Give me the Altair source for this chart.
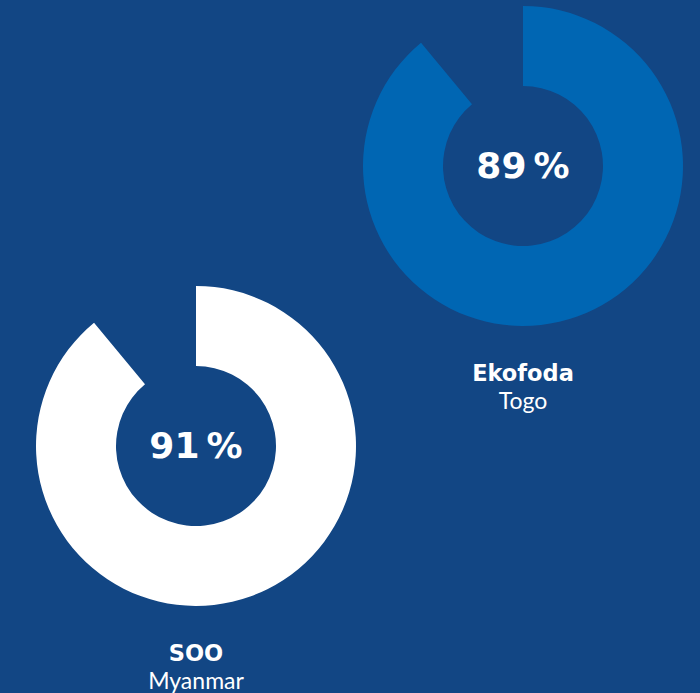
import altair as alt
import pandas as pd
import math

# Data
names = ["Ekofoda", "SOO"]
countries = ["Togo", "Myanmar"]
percent_values = [89, 91]
arc_filled = [89, 89]          # share of the ring actually drawn (measured)
ring_colors = ["#0066B3", "#FFFFFF"]
BG = "#124684"

# make the page itself take the chart's background (no white frame)
try:
    import altair.utils.html as _ah
    for _k, _t in list(_ah.TEMPLATES.items()):
        _r = _t.render

        def _render(*a, _r=_r, **k):
            return _r(*a, **k).replace(
                "<style>",
                "<style>\n html, body { margin: 0; background: %s; overflow: hidden; }" % BG,
                1,
            )
        _t.render = _render
except Exception:
    pass

df = pd.DataFrame({
    "name": names,
    "country": countries,
    "start": [0, 0],
    "end": arc_filled,
    "label": [f"{v}\u2009%" for v in percent_values],
})

xs = alt.Scale(type="point", domain=["SOO", "Ekofoda"], range=[196, 523], padding=0)
ys = alt.Scale(type="point", domain=["Ekofoda", "SOO"], range=[166, 446], padding=0)
X = alt.X("name:N", scale=xs, axis=None)
Y = alt.Y("name:N", scale=ys, axis=None)

base = alt.Chart(df)

rings = base.mark_arc(innerRadius=80, outerRadius=160).encode(
    x=X, y=Y,
    theta=alt.Theta("start:Q", stack=None,
                    scale=alt.Scale(domain=[0, 100], range=[0, 2 * math.pi])),
    theta2="end:Q",
    color=alt.Color("name:N", scale=alt.Scale(domain=names, range=ring_colors), legend=None),
)

pct = base.mark_text(font="DejaVu Sans", fontWeight="bold", fontSize=36, color="white",
                     baseline="middle", align="center", dy=1).encode(
    x=X, y=Y, text="label:N")

nm = base.mark_text(font="DejaVu Sans", fontWeight="bold", fontSize=22.5, color="white",
                    baseline="middle", align="center", dy=208).encode(
    x=X, y=Y, text="name:N")

ct = base.mark_text(font="Lato", fontSize=23, color="white",
                    baseline="middle", align="center", dy=236).encode(
    x=X, y=Y, text="country:N")

chart = alt.layer(rings, pct, nm, ct).properties(
    width=700, height=693,
    autosize=alt.AutoSizeParams(type="none"),
    padding=0,
    background=BG,
).configure_view(stroke=None)

chart.save("out.html", embed_options={"renderer": "svg", "actions": False})
